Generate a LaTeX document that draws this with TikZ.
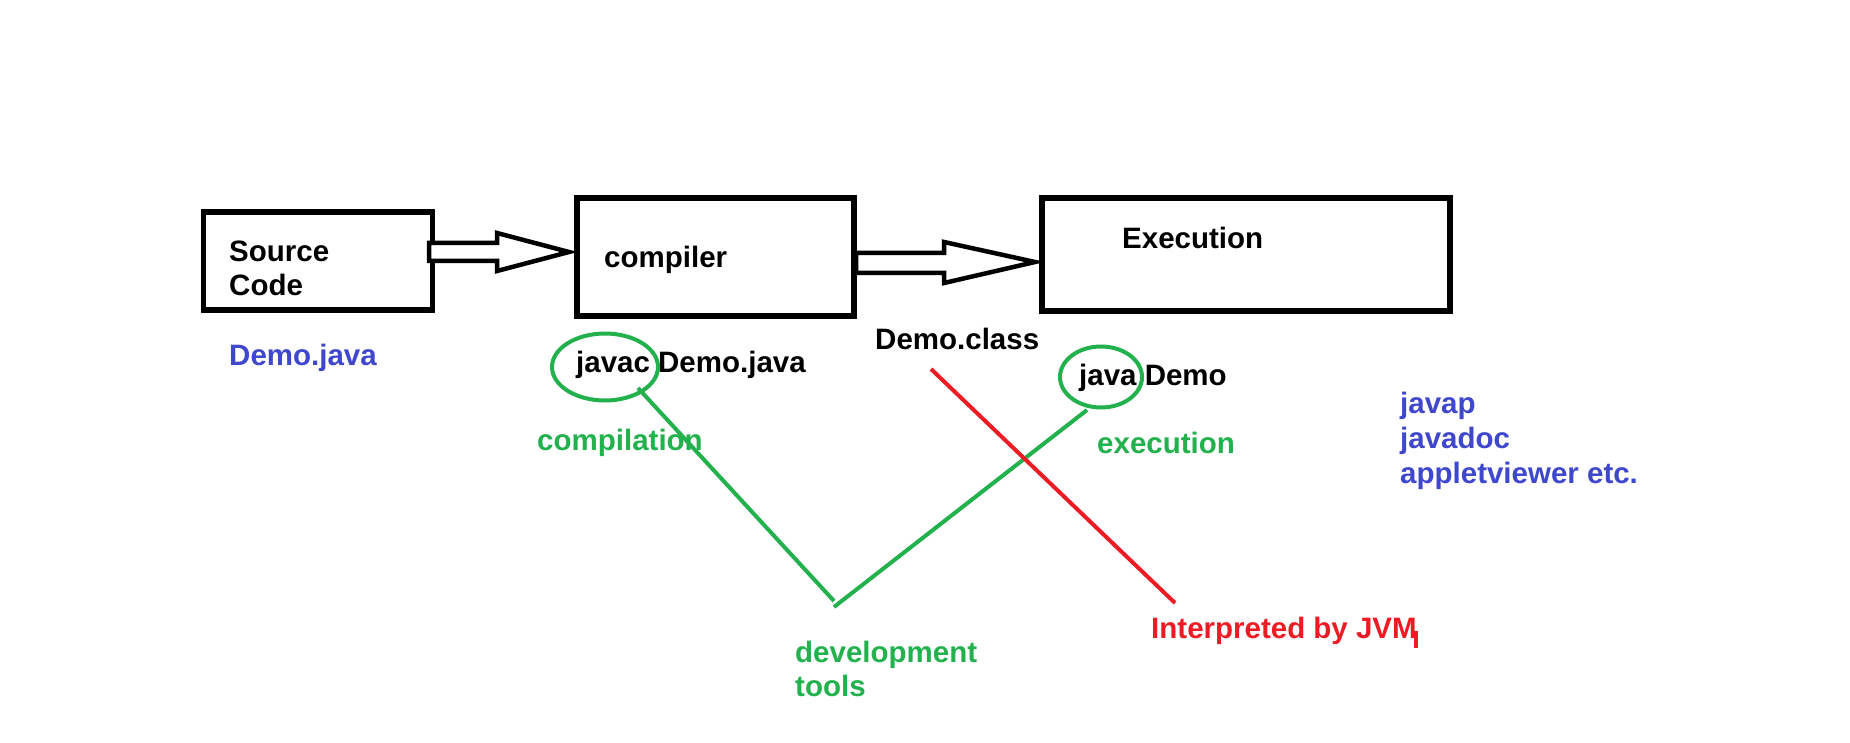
\documentclass[tikz,border=0pt]{standalone}
\usepackage{fontspec}
\setmainfont{Liberation Sans}
\usetikzlibrary{shapes.geometric}
\definecolor{pblue}{HTML}{3F48CC}
\definecolor{pgreen}{HTML}{22B14C}
\definecolor{pred}{HTML}{ED1C24}
\begin{document}
\begin{tikzpicture}[x=1pt,y=-1pt,
  lbl/.style={anchor=base west,inner sep=0pt,font=\fontsize{29.5}{35}\selectfont\bfseries},
  boxframe/.style={draw,line width=5.5pt,rectangle,inner sep=0pt},
  blockarrow/.style={draw,line width=4.5pt,line join=miter,fill=white},
  circ/.style={draw=pgreen,line width=4pt,ellipse,inner sep=0pt},
  gline/.style={draw=pgreen,line width=4pt},
  rline/.style={draw=pred,line width=4pt}]
\path[use as bounding box,fill=white] (0,0) rectangle (1850,743);

% boxes
\node[boxframe,minimum width=229pt,minimum height=98pt] (src) at (318,261) {};
\node[boxframe,minimum width=277pt,minimum height=118pt] (cmp) at (715.5,257) {};
\node[boxframe,minimum width=408pt,minimum height=113pt] (exe) at (1246,254.5) {};

% box texts
\node[lbl] (srcA) at (229,262) {Source};
\node[lbl] (srcB) at (229,296) {Code};
\node[lbl] (cmpT) at (604,268) {compiler};
\node[lbl] (exeT) at (1122,249) {Execution};

% block arrows
\coordinate (a1) at (569,252);
\coordinate (a2) at (1035,262);
\draw[blockarrow] (429,243) -- (497,243) -- (497,233) -- (a1) -- (497,271) -- (497,261) -- (429,261) -- cycle;
\draw[blockarrow] (856,253) -- (944,253) -- (944,242) -- (a2) -- (944,283) -- (944,273) -- (856,273) -- cycle;

% labels
\node[lbl,text=pblue] (djava) at (229,365) {Demo.java};
\node[lbl] (javac) at (576,372) {javac Demo.java};
\node[lbl] (dclass) at (875,349) {Demo.class};
\node[lbl] (java) at (1079,385) {java Demo};
\node[lbl,text=pgreen] (compl) at (537,450) {compilation};
\node[lbl,text=pgreen] (execl) at (1097,453) {execution};
\node[lbl,text=pblue] (t1) at (1400,413) {javap};
\node[lbl,text=pblue] (t2) at (1400,448) {javadoc};
\node[lbl,text=pblue] (t3) at (1400,483) {appletviewer etc.};
\node[lbl,text=pred] (interp) at (1151,638) {Interpreted by JVM};
\node[lbl,text=pgreen] (devA) at (795,662) {development};
\node[lbl,text=pgreen] (devB) at (795,696) {tools};

% circles
\node[circ,minimum width=106pt,minimum height=67pt] (cjavac) at (605,367) {};
\node[circ,minimum width=82pt,minimum height=61pt] (cjava) at (1101,377) {};

% connectors
\coordinate (v1) at (834,601);
\coordinate (v2) at (834,607);
\coordinate (rs) at (931,369);
\coordinate (re) at (1175,603);
\draw[gline] (638,388) -- (v1);
\draw[gline] (v2) -- (1087,410);
\draw[rline] (rs) -- (re);
\draw[draw=pred,line width=4pt] (1416,631) -- (1416,648);
\end{tikzpicture}
\end{document}
